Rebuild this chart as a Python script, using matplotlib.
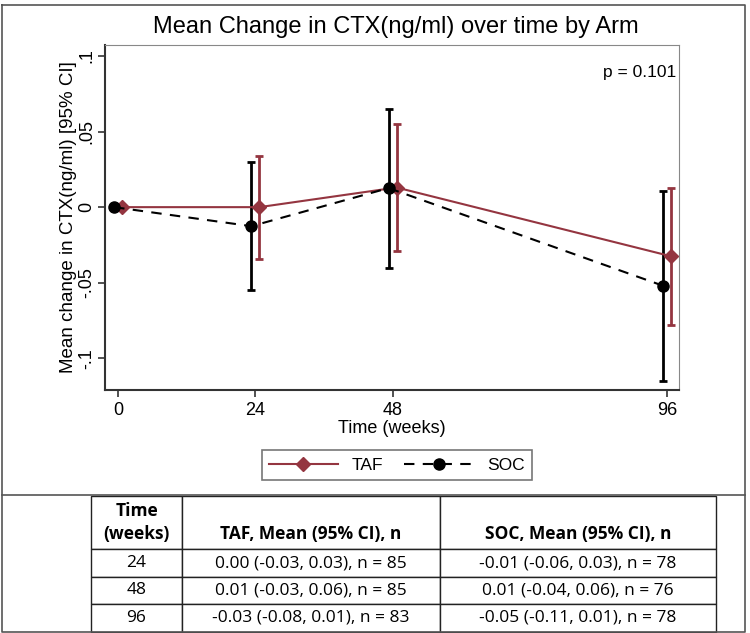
import matplotlib.pyplot as plt
import numpy as np

# data
weeks = [0, 24, 48, 96]
taf_mean = [0.0, 0.0, 0.013, -0.0325]
taf_lo = [0.0, -0.034, -0.029, -0.078]
taf_hi = [0.0, 0.034, 0.055, 0.013]
soc_mean = [0.0, -0.0126, 0.0126, -0.052]
soc_lo = [0.0, -0.055, -0.040, -0.115]
soc_hi = [0.0, 0.030, 0.065, 0.011]

yticks = [-0.1, -0.05, 0, 0.05, 0.1]
ytick_labels = ['-.1', '-.05', '0', '.05', '.1']

tbl_time = ['24', '48', '96']
tbl_taf = ['0.00 (-0.03, 0.03), n = 85', '0.01 (-0.03, 0.06), n = 85', '-0.03 (-0.08, 0.01), n = 83']
tbl_soc = ['-0.01 (-0.06, 0.03), n = 78', '0.01 (-0.04, 0.06), n = 76', '-0.05 (-0.11, 0.01), n = 78']
tbl_head = ['Time\n(weeks)', '\nTAF, Mean (95% CI), n', '\nSOC, Mean (95% CI), n']

red = '#943540'
W, H = 750, 633

plt.rcParams['font.family'] = ['Liberation Sans', 'DejaVu Sans']

fig = plt.figure(figsize=(7.5, 6.33), dpi=100)

# background axes in pixel units for frame + table
bg = fig.add_axes([0, 0, 1, 1])
bg.set_xlim(0, W)
bg.set_ylim(H, 0)
bg.axis('off')
bg.plot([2, 745, 745, 2, 2], [5, 5, 632, 632, 5], color='#555555', lw=1.2)
bg.plot([2, 745], [495, 495], color='#555555', lw=1.2)

# main plot
ax = fig.add_axes([105/W, 1 - 390/H, 574/W, 345/H])
wk = np.array(weeks, dtype=float)
off = 0.7
tx = wk + off
sx = wk - off
ax.errorbar(tx, taf_mean, yerr=[np.array(taf_mean) - np.array(taf_lo), np.array(taf_hi) - np.array(taf_mean)],
            fmt='none', ecolor=red, elinewidth=2, capsize=3, capthick=2, zorder=2)
ax.errorbar(sx, soc_mean, yerr=[np.array(soc_mean) - np.array(soc_lo), np.array(soc_hi) - np.array(soc_mean)],
            fmt='none', ecolor='black', elinewidth=2, capsize=3, capthick=2, zorder=3)
l1, = ax.plot(tx, taf_mean, '-', color=red, lw=1.5, marker='D', ms=7, mfc=red, mec=red, zorder=4, label='TAF')
l2, = ax.plot(sx, soc_mean, '--', color='black', lw=1.5, marker='o', ms=8, dashes=(5, 4), zorder=5, label='SOC')

ax.set_xlim(-2.3, 98.1)
ax.set_ylim(-0.121, 0.1073)
ax.set_xticks(weeks)
ax.set_xticklabels([str(w) for w in weeks], fontsize=13)
ax.set_yticks(yticks)
ax.set_yticklabels(ytick_labels, fontsize=13, rotation=90, va='center')
ax.tick_params(direction='out', length=5, width=1.2, color='#333333')
ax.tick_params(axis='y', pad=2)
for s in ['top', 'right']:
    ax.spines[s].set_color('#888888')
for s in ['left', 'bottom']:
    ax.spines[s].set_color('#333333')
    ax.spines[s].set_linewidth(1.5)
ax.set_xlabel('Time (weeks)', fontsize=13, labelpad=1)
ax.set_ylabel('Mean change in CTX(ng/ml) [95% CI]', fontsize=13.5, labelpad=1)
ax.text(0.995, 0.92, 'p = 0.101', transform=ax.transAxes, ha='right', va='center', fontsize=12.5)

fig.text(396/W, 1 - 27/H, 'Mean Change in CTX(ng/ml) over time by Arm', ha='center', va='center', fontsize=17)

leg = fig.legend(handles=[l1, l2], loc='center', bbox_to_anchor=(397/W, 1 - 465/H), ncol=2,
                 fontsize=12.5, frameon=True, fancybox=False, edgecolor='#555555',
                 handlelength=4, columnspacing=1.2, borderpad=0.4)
leg.get_frame().set_linewidth(1.2)

# table
rows = [tbl_head] + [[t, a, b] for t, a, b in zip(tbl_time, tbl_taf, tbl_soc)]
x0, x1 = 91, 716
y0, y1 = 496, 632
tb = bg.table(cellText=rows, cellLoc='center', loc='center',
              bbox=[x0/W, 1 - y1/H, (x1 - x0)/W, (y1 - y0)/H])
tb.auto_set_font_size(False)
colw = [91, 258, 276]
rowh = [53, 28, 27, 28]
for (r, c), cell in tb.get_celld().items():
    cell.set_width(colw[c]/W)
    cell.set_height(rowh[r]/H)
    cell.set_linewidth(1.0)
    cell.set_edgecolor('#222222')
    cell.get_text().set_fontsize(12.5)
    cell.get_text().set_fontfamily(['Open Sans', 'DejaVu Sans'])
    if r == 0:
        cell.get_text().set_fontweight('bold')
        cell.get_text().set_linespacing(1.35)

fig.savefig('out.png', dpi=100)
